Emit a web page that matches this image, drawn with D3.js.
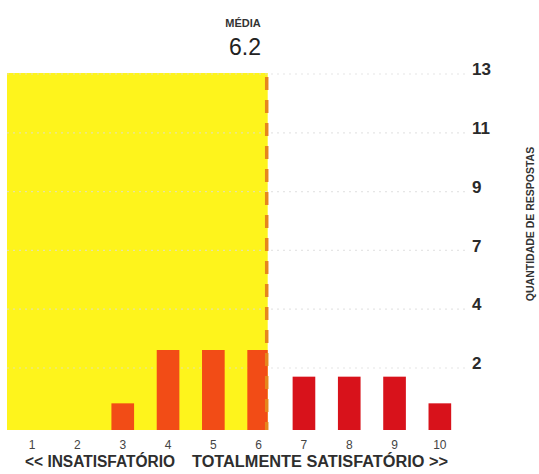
<!DOCTYPE html>
<html>
<head>
<meta charset="utf-8">
<script src="https://cdn.jsdelivr.net/npm/d3@7"></script>
<style>
html,body{margin:0;padding:0;background:#fff;}
svg{display:block;}
</style>
</head>
<body>
<svg id="chart" width="539" height="474"></svg>
<script>
// ---- data ----
const categories = ["1","2","3","4","5","6","7","8","9","10"];
const counts = [0, 0, 1, 3, 3, 3, 2, 2, 2, 1];
const yTickLabels = ["13","11","9","7","4","2"];
const meanLabel = "MÉDIA";
const meanValue = 6.2;
const axisTitle = "QUANTIDADE DE RESPOSTAS";
const leftNote = "<< INSATISFATÓRIO";
const rightNote = "TOTALMENTE SATISFATÓRIO >>";

const svg = d3.select("#chart");
const font = "'Liberation Sans', Arial, sans-serif";

const x = d3.scaleBand().domain(categories).range([9.5, 462.5]).paddingInner(0.5).paddingOuter(0.25);
const xc = c => x(c) + x.bandwidth() / 2;
const xLin = d3.scaleLinear().domain([1, 10]).range([xc("1"), xc("10")]);
const y = d3.scaleLinear().domain([0, 3]).range([430, 350]);
const yTick = d3.scalePoint().domain(yTickLabels).range([69, 363]);

const meanX = xLin(meanValue);

// yellow area up to mean
svg.append("rect")
  .attr("x", 7).attr("y", yTick("13") + 4)
  .attr("width", meanX - 7).attr("height", y(0) - yTick("13") - 4)
  .attr("fill", "#fef41c");

// dotted gridlines
svg.append("g").selectAll("line").data(yTickLabels).join("line")
  .attr("x1", 7).attr("x2", 466)
  .attr("y1", d => yTick(d) + 5).attr("y2", d => yTick(d) + 5)
  .attr("stroke", "#dcdcdc").attr("stroke-width", 1.2)
  .attr("stroke-dasharray", "2,4").attr("opacity", 0.7);

// bars
svg.append("g").selectAll("rect").data(categories.map((c, i) => ({c, v: counts[i]})).filter(d => d.v > 0))
  .join("rect")
  .attr("x", d => x(d.c))
  .attr("width", d => Math.min(x.bandwidth(), Math.max(0, (+d.c < meanValue ? meanX - x(d.c) : x.bandwidth()))))
  .attr("y", d => y(d.v))
  .attr("height", d => y(0) - y(d.v))
  .attr("fill", d => +d.c < meanValue ? "#f24c16" : "#d8121b");

// mean dashed line
svg.append("line")
  .attr("x1", meanX - 1).attr("x2", meanX - 1)
  .attr("y1", yTick("13") + 8).attr("y2", y(0))
  .attr("stroke", "#e6861c").attr("stroke-width", 3.5)
  .attr("stroke-dasharray", "13,10");

// mean labels
svg.append("text").attr("x", 243).attr("y", 27).attr("text-anchor", "middle")
  .attr("font-family", font).attr("font-weight", "bold").attr("font-size", 11)
  .attr("fill", "#333").text(meanLabel);
svg.append("text").attr("x", 245).attr("y", 55).attr("text-anchor", "middle")
  .attr("font-family", font).attr("font-size", 23)
  .attr("fill", "#222").text(meanValue.toFixed(1));

// right tick labels
svg.append("g").selectAll("text").data(yTickLabels).join("text")
  .attr("x", 472).attr("y", d => yTick(d)).attr("dy", "0.36em")
  .attr("font-family", font).attr("font-weight", "bold").attr("font-size", 17)
  .attr("fill", "#2a2a2a").text(d => d);

// axis title
svg.append("text")
  .attr("transform", "translate(534,224) rotate(-90)")
  .attr("text-anchor", "middle")
  .attr("font-family", font).attr("font-weight", "bold").attr("font-size", 10.5)
  .attr("fill", "#333").text(axisTitle);

// category labels
svg.append("g").selectAll("text").data(categories).join("text")
  .attr("x", d => xc(d)).attr("y", 449).attr("text-anchor", "middle")
  .attr("font-family", font).attr("font-size", 12)
  .attr("fill", "#444").text(d => d);

// bottom notes
svg.append("text").attr("x", 25).attr("y", 467)
  .attr("font-family", font).attr("font-size", 16).attr("font-weight", "bold")
  .attr("textLength", 150).attr("lengthAdjust", "spacingAndGlyphs")
  .attr("fill", "#2e2e2e").text(leftNote);
svg.append("text").attr("x", 192).attr("y", 467)
  .attr("font-family", font).attr("font-size", 16).attr("font-weight", "bold")
  .attr("textLength", 256).attr("lengthAdjust", "spacingAndGlyphs")
  .attr("fill", "#2e2e2e").text(rightNote);
</script>
</body>
</html>
